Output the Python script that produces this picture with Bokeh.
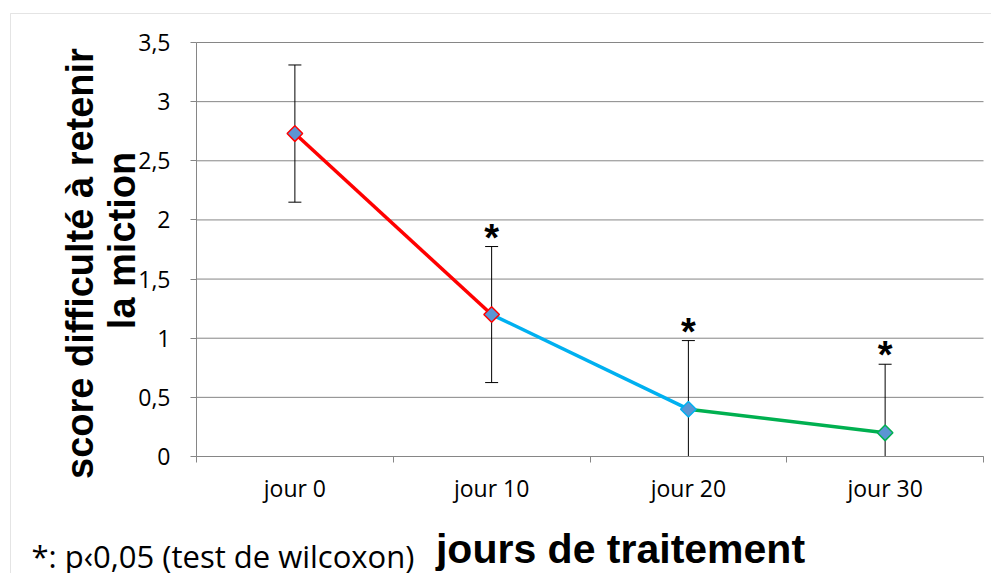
import numpy as np
from bokeh.plotting import figure
from bokeh.models import Label, FixedTicker, Range1d, BoxAnnotation
from bokeh.core.properties import value
from bokeh.embed import file_html
from bokeh.resources import INLINE

# ---- data ----
categories = ["jour 0", "jour 10", "jour 20", "jour 30"]
means = [2.73, 1.20, 0.40, 0.20]
errors = [0.58, 0.575, 0.58, 0.58]
segment_colors = ["#ff0000", "#00b0f0", "#00b050"]
marker_line_colors = ["#ff0000", "#ff0000", "#00b0f0", "#00b050"]
significance = ["", "*", "*", "*"]
y_ticks = [0, 0.5, 1, 1.5, 2, 2.5, 3, 3.5]
y_tick_labels = ["0", "0,5", "1", "1,5", "2", "2,5", "3", "3,5"]
y_title = ["score difficulté à retenir", "la miction"]
x_title = "jours de traitement"
footnote = "*: p\u20390,05 (test de wilcoxon)"

n = len(categories)
y_max = 3.5
xs = [i + 0.5 for i in range(n)]
upper = [m + e for m, e in zip(means, errors)]
lower = [m - e for m, e in zip(means, errors)]

# ---- layout (pixels on the canvas) ----
W, H = 991, 573
PLOT_L, PLOT_R = 196, 983      # canvas px of x=0 and x=n
PLOT_T, PLOT_B = 42, 456       # canvas px of y=y_max and y=0
XS = (PLOT_R - PLOT_L) / n
YS = (PLOT_B - PLOT_T) / y_max


def X(px):  # canvas px -> data x
    return (px - PLOT_L) / XS


def Y(py):  # canvas px -> data y
    return (PLOT_B - py) / YS


GREY = "#868686"

p = figure(width=W, height=H,
           x_range=Range1d(-PLOT_L / XS, (W - PLOT_L) / XS),
           y_range=Range1d(-(H - PLOT_B) / YS, PLOT_B / YS),
           output_backend="svg", toolbar_location=None,
           min_border=0, min_border_left=0, min_border_right=0,
           min_border_top=0, min_border_bottom=0)
p.outline_line_color = None
p.background_fill_color = "white"
p.border_fill_color = "white"
p.xgrid.visible = False
p.ygrid.visible = False

# chart-area border (only its left and top edges are in view)
p.add_layout(BoxAnnotation(left=X(10), top=Y(13), right=X(1200), bottom=Y(800),
                           fill_color=None, line_color="#a6a6a6", line_width=1))

# horizontal gridlines
p.segment(x0=[0] * len(y_ticks), x1=[n] * len(y_ticks), y0=y_ticks, y1=y_ticks,
          line_color=GREY, line_width=1)

# axes at fixed data locations
yax = p.yaxis[0]
yax.fixed_location = 0
yax.bounds = (0, y_max)
yax.ticker = FixedTicker(ticks=y_ticks)
yax.major_label_overrides = {float(t): l for t, l in zip(y_ticks, y_tick_labels)}
yax.axis_line_color = GREY
yax.major_tick_line_color = GREY
yax.major_tick_out = 6
yax.major_tick_in = 0
yax.minor_tick_line_color = None
yax.major_label_standoff = 20
yax.major_label_text_font = "Open Sans"
yax.major_label_text_font_size = "23px"
yax.major_label_text_color = "black"

xax = p.xaxis[0]
xax.fixed_location = 0
xax.bounds = (0, n)
xax.ticker = FixedTicker(ticks=xs, minor_ticks=list(range(n + 1)))
xax.major_label_overrides = {float(x): c for x, c in zip(xs, categories)}
xax.axis_line_color = GREY
xax.major_tick_line_color = None
xax.major_tick_out = 0
xax.major_tick_in = 0
xax.minor_tick_line_color = GREY
xax.minor_tick_out = 6
xax.minor_tick_in = 0
xax.major_label_standoff = 9
xax.major_label_text_font = "Open Sans"
xax.major_label_text_font_size = "23px"
xax.major_label_text_color = "black"

# error bars
p.segment(x0=xs, y0=[max(v, 0) for v in lower], x1=xs, y1=upper,
          line_color="black", line_width=1)
p.scatter(xs, upper, marker="dash", size=13, line_color="black", line_width=1)
p.scatter([x for x, v in zip(xs, lower) if v >= 0], [v for v in lower if v >= 0],
          marker="dash", size=13, line_color="black", line_width=1)

# coloured line segments
p.segment(x0=xs[:-1], y0=means[:-1], x1=xs[1:], y1=means[1:],
          line_color=segment_colors, line_width=3.5)

# markers
p.scatter(xs, means, marker="square", angle=np.pi / 4, size=11,
          fill_color="#5b95d3", line_color=marker_line_colors, line_width=1.5)

# significance stars
p.text(x=xs, y=upper, text=significance, text_font=value("Liberation Sans"),
       text_font_style="bold", text_font_size="38px", text_align="center",
       text_baseline="alphabetic", y_offset=-9, text_color="black")

# y-axis title, two lines, rotated
for t, bx, cy in zip(y_title, [79, 121], [263, 240]):
    p.add_layout(Label(x=X(bx), y=Y(cy), text=t, angle=np.pi / 2,
                       text_align="center", text_baseline="alphabetic",
                       text_font="Liberation Sans", text_font_style="bold",
                       text_font_size="38px", text_color="black"))

# x-axis title
p.add_layout(Label(x=X(620), y=Y(548), text=x_title, text_align="center",
                   text_baseline="alphabetic", text_font="Liberation Sans",
                   text_font_style="bold", text_font_size="41px", text_color="black"))

# footnote
p.add_layout(Label(x=X(31), y=Y(555), text=footnote, text_align="left",
                   text_baseline="alphabetic", text_font="Open Sans",
                   text_font_size="31px", text_color="black"))

open("out.html", "w").write(file_html(p, INLINE))
